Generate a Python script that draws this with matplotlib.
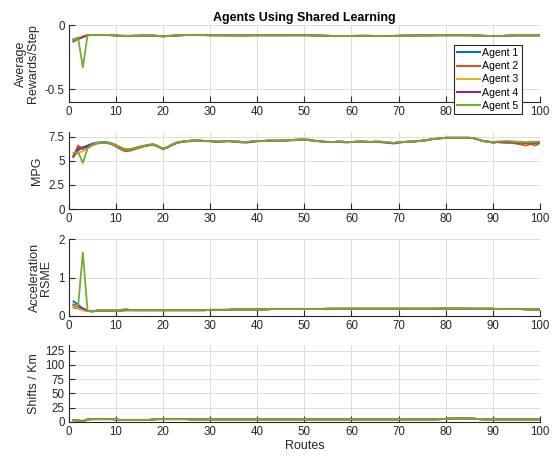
import matplotlib
matplotlib.use("Agg")
import matplotlib.pyplot as plt

plt.rcParams['font.family'] = ['Liberation Sans', 'DejaVu Sans']

routes = list(range(1, 101))
agents = ["Agent 1", "Agent 2", "Agent 3", "Agent 4", "Agent 5"]
colors = ["#0072BD", "#D95319", "#EDB120", "#7E2F8E", "#77AC30"]

# ---- Average rewards / step ----
rew_a1 = [-0.13, -0.105, -0.09, -0.08, -0.077, -0.077, -0.077, -0.078, -0.079, -0.082,
          -0.083, -0.084, -0.084, -0.083, -0.083, -0.082, -0.082, -0.082, -0.085, -0.088,
          -0.086, -0.083, -0.082, -0.08, -0.078, -0.078, -0.078, -0.078, -0.079, -0.08,
          -0.08, -0.08, -0.08, -0.08, -0.08, -0.081, -0.081, -0.081, -0.08, -0.08,
          -0.08, -0.08, -0.08, -0.08, -0.08, -0.08, -0.08, -0.08, -0.08, -0.08,
          -0.08, -0.081, -0.082, -0.083, -0.084, -0.085, -0.085, -0.085, -0.085, -0.085,
          -0.084, -0.084, -0.084, -0.084, -0.085, -0.085, -0.085, -0.085, -0.085, -0.084,
          -0.083, -0.082, -0.082, -0.081, -0.081, -0.081, -0.081, -0.08, -0.08, -0.08,
          -0.08, -0.08, -0.08, -0.08, -0.08, -0.081, -0.082, -0.084, -0.085, -0.086,
          -0.086, -0.085, -0.083, -0.081, -0.08, -0.08, -0.08, -0.08, -0.08, -0.08]
rew_a2 = [-0.11, -0.1, -0.09, -0.08, -0.078, -0.078, -0.078, -0.079, -0.08, -0.083,
          -0.085, -0.086, -0.086, -0.085, -0.084, -0.083, -0.083, -0.083, -0.086, -0.089,
          -0.087, -0.084, -0.082, -0.08, -0.079, -0.078, -0.078, -0.079, -0.08, -0.08,
          -0.08, -0.08, -0.081, -0.081, -0.081, -0.081, -0.081, -0.081, -0.08, -0.08,
          -0.08, -0.08, -0.08, -0.08, -0.08, -0.08, -0.08, -0.08, -0.08, -0.08,
          -0.081, -0.082, -0.083, -0.084, -0.085, -0.086, -0.086, -0.086, -0.085, -0.085,
          -0.085, -0.085, -0.085, -0.085, -0.086, -0.086, -0.086, -0.086, -0.085, -0.084,
          -0.083, -0.083, -0.082, -0.082, -0.081, -0.081, -0.081, -0.08, -0.08, -0.08,
          -0.08, -0.08, -0.08, -0.08, -0.08, -0.081, -0.083, -0.085, -0.086, -0.087,
          -0.087, -0.086, -0.084, -0.082, -0.081, -0.081, -0.082, -0.082, -0.082, -0.081]
rew_a3 = [-0.115, -0.1, -0.085, -0.079, -0.077, -0.077, -0.077, -0.078, -0.079, -0.082,
          -0.084, -0.085, -0.085, -0.084, -0.083, -0.082, -0.082, -0.082, -0.085, -0.088,
          -0.086, -0.083, -0.081, -0.079, -0.077, -0.076, -0.076, -0.077, -0.079, -0.08,
          -0.08, -0.08, -0.08, -0.08, -0.08, -0.081, -0.081, -0.081, -0.08, -0.08,
          -0.08, -0.08, -0.08, -0.08, -0.08, -0.08, -0.079, -0.079, -0.079, -0.079,
          -0.08, -0.081, -0.082, -0.083, -0.084, -0.085, -0.085, -0.085, -0.085, -0.085,
          -0.084, -0.084, -0.084, -0.084, -0.085, -0.085, -0.085, -0.085, -0.084, -0.083,
          -0.082, -0.082, -0.081, -0.081, -0.081, -0.08, -0.08, -0.08, -0.08, -0.08,
          -0.079, -0.079, -0.079, -0.079, -0.08, -0.081, -0.082, -0.084, -0.085, -0.085,
          -0.085, -0.084, -0.083, -0.081, -0.08, -0.08, -0.08, -0.08, -0.08, -0.08]
rew_a4 = [-0.12, -0.11, -0.095, -0.08, -0.077, -0.077, -0.077, -0.078, -0.08, -0.082,
          -0.084, -0.085, -0.085, -0.084, -0.083, -0.082, -0.082, -0.083, -0.086, -0.088,
          -0.086, -0.083, -0.082, -0.08, -0.078, -0.078, -0.078, -0.078, -0.079, -0.08,
          -0.08, -0.08, -0.08, -0.081, -0.081, -0.081, -0.081, -0.081, -0.08, -0.08,
          -0.08, -0.08, -0.08, -0.08, -0.08, -0.08, -0.08, -0.08, -0.08, -0.08,
          -0.08, -0.081, -0.082, -0.083, -0.084, -0.085, -0.085, -0.085, -0.085, -0.085,
          -0.085, -0.084, -0.084, -0.085, -0.085, -0.085, -0.086, -0.086, -0.085, -0.084,
          -0.083, -0.082, -0.082, -0.081, -0.081, -0.081, -0.081, -0.08, -0.08, -0.08,
          -0.08, -0.08, -0.08, -0.08, -0.08, -0.081, -0.082, -0.084, -0.085, -0.086,
          -0.086, -0.085, -0.083, -0.082, -0.081, -0.081, -0.081, -0.081, -0.081, -0.08]
rew_a5 = [-0.12, -0.1, -0.33, -0.08, -0.077, -0.077, -0.077, -0.078, -0.079, -0.082,
          -0.084, -0.085, -0.085, -0.084, -0.083, -0.082, -0.082, -0.082, -0.085, -0.088,
          -0.086, -0.083, -0.082, -0.08, -0.078, -0.078, -0.078, -0.078, -0.079, -0.08,
          -0.08, -0.08, -0.08, -0.08, -0.08, -0.081, -0.081, -0.081, -0.08, -0.08,
          -0.08, -0.08, -0.08, -0.08, -0.08, -0.08, -0.08, -0.08, -0.08, -0.08,
          -0.08, -0.081, -0.082, -0.083, -0.084, -0.085, -0.085, -0.085, -0.085, -0.085,
          -0.084, -0.084, -0.084, -0.084, -0.085, -0.085, -0.085, -0.085, -0.085, -0.084,
          -0.083, -0.082, -0.082, -0.081, -0.081, -0.081, -0.081, -0.08, -0.08, -0.08,
          -0.08, -0.08, -0.08, -0.08, -0.08, -0.081, -0.082, -0.084, -0.085, -0.086,
          -0.086, -0.085, -0.083, -0.081, -0.08, -0.08, -0.08, -0.08, -0.08, -0.08]

# ---- MPG ----
mpg_a1 = [5.5, 6.1, 6.4, 6.6, 6.8, 6.9, 6.95, 6.95, 6.85, 6.65,
          6.4, 6.2, 6.2, 6.3, 6.45, 6.55, 6.65, 6.7, 6.5, 6.25,
          6.45, 6.7, 6.9, 7.0, 7.05, 7.1, 7.1, 7.1, 7.05, 7.05,
          7.0, 7.0, 7.05, 7.05, 7.0, 6.95, 6.9, 6.9, 7.0, 7.05,
          7.05, 7.1, 7.1, 7.1, 7.1, 7.1, 7.15, 7.15, 7.2, 7.2,
          7.15, 7.1, 7.05, 7.0, 6.95, 6.95, 7.0, 7.0, 6.95, 6.95,
          7.0, 7.0, 7.0, 6.95, 7.0, 7.0, 6.95, 6.9, 6.85, 6.95,
          6.95, 7.0, 7.0, 7.05, 7.1, 7.15, 7.25, 7.3, 7.35, 7.4,
          7.4, 7.4, 7.4, 7.4, 7.4, 7.35, 7.2, 7.05, 7.0, 6.9,
          6.95, 7.0, 7.0, 6.95, 6.9, 6.9, 6.85, 6.9, 6.85, 6.9]
mpg_a2 = [5.5, 6.6, 6.2, 6.4, 6.6, 6.8, 6.85, 6.85, 6.75, 6.5,
          6.2, 6.0, 6.05, 6.2, 6.35, 6.5, 6.6, 6.65, 6.45, 6.2,
          6.4, 6.65, 6.85, 6.95, 7.0, 7.05, 7.1, 7.1, 7.05, 7.05,
          7.0, 7.0, 7.0, 7.05, 7.0, 7.0, 6.95, 6.95, 7.0, 7.05,
          7.05, 7.1, 7.1, 7.1, 7.1, 7.15, 7.15, 7.2, 7.25, 7.25,
          7.2, 7.1, 7.05, 7.0, 6.95, 6.95, 6.95, 6.95, 6.9, 6.95,
          6.95, 7.0, 6.95, 6.95, 6.95, 7.0, 6.95, 6.9, 6.85, 6.9,
          6.95, 7.0, 7.0, 7.05, 7.1, 7.15, 7.25, 7.3, 7.35, 7.4,
          7.4, 7.4, 7.4, 7.4, 7.4, 7.35, 7.2, 7.05, 7.0, 6.95,
          6.95, 6.95, 6.9, 6.85, 6.8, 6.7, 6.6, 6.75, 6.6, 6.85]
mpg_a3 = [5.6, 5.8, 6.0, 6.3, 6.65, 6.85, 6.9, 6.9, 6.85, 6.65,
          6.4, 6.2, 6.2, 6.35, 6.5, 6.6, 6.7, 6.75, 6.55, 6.3,
          6.45, 6.75, 6.9, 7.0, 7.05, 7.1, 7.15, 7.1, 7.05, 7.05,
          7.05, 7.05, 7.05, 7.05, 7.0, 7.0, 6.95, 7.0, 7.05, 7.05,
          7.05, 7.1, 7.1, 7.1, 7.1, 7.1, 7.15, 7.2, 7.25, 7.25,
          7.2, 7.1, 7.05, 7.0, 7.0, 6.95, 7.0, 7.0, 6.95, 6.95,
          7.0, 7.0, 7.0, 7.0, 7.0, 7.0, 6.95, 6.9, 6.9, 6.95,
          6.95, 7.0, 7.0, 7.05, 7.1, 7.15, 7.25, 7.3, 7.35, 7.4,
          7.4, 7.4, 7.4, 7.4, 7.4, 7.35, 7.2, 7.05, 7.0, 6.95,
          7.0, 7.05, 7.05, 7.05, 7.0, 7.0, 6.95, 7.0, 7.0, 7.0]
mpg_a4 = [5.4, 6.3, 6.4, 6.5, 6.7, 6.85, 6.9, 6.9, 6.8, 6.6,
          6.35, 6.15, 6.15, 6.3, 6.45, 6.55, 6.65, 6.7, 6.5, 6.25,
          6.4, 6.7, 6.9, 7.0, 7.05, 7.1, 7.15, 7.1, 7.05, 7.05,
          7.0, 7.0, 7.05, 7.05, 7.0, 7.0, 6.95, 6.95, 7.0, 7.05,
          7.05, 7.1, 7.1, 7.1, 7.1, 7.1, 7.15, 7.15, 7.2, 7.2,
          7.15, 7.1, 7.05, 7.0, 6.95, 6.95, 7.0, 7.0, 6.95, 6.95,
          7.0, 7.0, 7.0, 6.95, 7.0, 6.95, 6.9, 6.85, 6.8, 6.9,
          6.95, 7.0, 7.0, 7.05, 7.1, 7.15, 7.25, 7.3, 7.35, 7.4,
          7.4, 7.4, 7.4, 7.4, 7.4, 7.35, 7.2, 7.05, 7.0, 6.9,
          6.95, 6.9, 6.9, 6.95, 6.9, 6.9, 6.85, 6.9, 6.9, 6.95]
mpg_a5 = [5.8, 5.9, 4.8, 6.3, 6.7, 6.85, 6.9, 6.9, 6.8, 6.6,
          6.35, 6.15, 6.15, 6.3, 6.45, 6.55, 6.65, 6.7, 6.5, 6.25,
          6.4, 6.7, 6.9, 7.0, 7.05, 7.1, 7.15, 7.1, 7.05, 7.05,
          7.05, 7.0, 7.05, 7.05, 7.0, 7.0, 6.95, 6.95, 7.05, 7.05,
          7.05, 7.1, 7.1, 7.1, 7.1, 7.1, 7.15, 7.15, 7.2, 7.2,
          7.15, 7.1, 7.05, 7.0, 6.95, 6.95, 7.0, 7.0, 6.95, 6.95,
          7.0, 7.0, 7.0, 6.95, 7.0, 7.0, 6.95, 6.9, 6.85, 6.95,
          6.95, 7.0, 7.0, 7.05, 7.1, 7.15, 7.25, 7.3, 7.35, 7.4,
          7.4, 7.4, 7.4, 7.4, 7.4, 7.35, 7.2, 7.05, 7.0, 6.95,
          7.0, 7.0, 7.05, 7.0, 6.95, 6.95, 6.9, 6.95, 6.95, 7.0]

# ---- Acceleration RSME ----
acc_a1 = [0.38, 0.3, 0.18, 0.13, 0.12, 0.14, 0.14, 0.14, 0.14, 0.14,
          0.14, 0.15, 0.15, 0.15, 0.15, 0.15, 0.15, 0.15, 0.15, 0.15,
          0.15, 0.15, 0.15, 0.15, 0.15, 0.15, 0.15, 0.15, 0.15, 0.16,
          0.16, 0.16, 0.16, 0.16, 0.17, 0.17, 0.17, 0.17, 0.17, 0.17,
          0.17, 0.17, 0.18, 0.18, 0.18, 0.18, 0.18, 0.18, 0.18, 0.18,
          0.18, 0.18, 0.18, 0.18, 0.19, 0.19, 0.19, 0.19, 0.19, 0.19,
          0.19, 0.19, 0.19, 0.19, 0.19, 0.19, 0.19, 0.19, 0.19, 0.19,
          0.19, 0.19, 0.19, 0.19, 0.19, 0.19, 0.19, 0.19, 0.19, 0.19,
          0.19, 0.19, 0.19, 0.19, 0.19, 0.19, 0.19, 0.19, 0.19, 0.19,
          0.18, 0.18, 0.18, 0.18, 0.18, 0.18, 0.17, 0.17, 0.17, 0.17]
acc_a2 = [0.22, 0.2, 0.15, 0.13, 0.12, 0.14, 0.14, 0.14, 0.14, 0.14,
          0.15, 0.18, 0.16, 0.15, 0.15, 0.15, 0.15, 0.15, 0.15, 0.15,
          0.15, 0.15, 0.15, 0.15, 0.15, 0.15, 0.15, 0.15, 0.16, 0.16,
          0.16, 0.16, 0.16, 0.17, 0.17, 0.17, 0.17, 0.17, 0.17, 0.17,
          0.17, 0.18, 0.18, 0.18, 0.18, 0.18, 0.18, 0.18, 0.18, 0.18,
          0.18, 0.18, 0.18, 0.19, 0.19, 0.19, 0.19, 0.19, 0.19, 0.19,
          0.19, 0.19, 0.19, 0.19, 0.19, 0.19, 0.19, 0.19, 0.19, 0.19,
          0.19, 0.19, 0.19, 0.19, 0.19, 0.19, 0.19, 0.19, 0.2, 0.2,
          0.2, 0.2, 0.2, 0.2, 0.19, 0.19, 0.19, 0.19, 0.19, 0.19,
          0.18, 0.18, 0.18, 0.18, 0.18, 0.18, 0.18, 0.17, 0.17, 0.17]
acc_a3 = [0.25, 0.22, 0.15, 0.13, 0.12, 0.14, 0.14, 0.14, 0.14, 0.14,
          0.14, 0.15, 0.15, 0.15, 0.15, 0.15, 0.15, 0.15, 0.15, 0.15,
          0.15, 0.15, 0.15, 0.15, 0.15, 0.15, 0.15, 0.15, 0.15, 0.16,
          0.16, 0.16, 0.16, 0.16, 0.17, 0.17, 0.17, 0.17, 0.17, 0.17,
          0.17, 0.17, 0.18, 0.18, 0.18, 0.18, 0.18, 0.18, 0.18, 0.18,
          0.18, 0.18, 0.18, 0.18, 0.19, 0.19, 0.19, 0.19, 0.19, 0.19,
          0.19, 0.19, 0.19, 0.19, 0.19, 0.19, 0.19, 0.19, 0.19, 0.19,
          0.19, 0.19, 0.19, 0.19, 0.19, 0.19, 0.19, 0.19, 0.19, 0.19,
          0.19, 0.19, 0.19, 0.19, 0.19, 0.19, 0.19, 0.19, 0.19, 0.19,
          0.18, 0.18, 0.18, 0.18, 0.18, 0.18, 0.17, 0.17, 0.17, 0.17]
acc_a4 = [0.3, 0.25, 0.2, 0.14, 0.12, 0.14, 0.14, 0.14, 0.14, 0.14,
          0.14, 0.15, 0.15, 0.15, 0.15, 0.15, 0.15, 0.15, 0.15, 0.15,
          0.15, 0.15, 0.15, 0.15, 0.15, 0.15, 0.15, 0.15, 0.15, 0.16,
          0.16, 0.16, 0.16, 0.16, 0.17, 0.17, 0.17, 0.17, 0.17, 0.17,
          0.17, 0.17, 0.18, 0.18, 0.18, 0.18, 0.18, 0.18, 0.18, 0.18,
          0.18, 0.18, 0.18, 0.18, 0.19, 0.19, 0.19, 0.19, 0.19, 0.19,
          0.19, 0.19, 0.19, 0.19, 0.19, 0.19, 0.19, 0.19, 0.19, 0.19,
          0.19, 0.19, 0.19, 0.19, 0.19, 0.19, 0.19, 0.19, 0.19, 0.19,
          0.19, 0.19, 0.19, 0.19, 0.19, 0.19, 0.19, 0.19, 0.19, 0.19,
          0.18, 0.18, 0.18, 0.18, 0.18, 0.18, 0.17, 0.17, 0.17, 0.17]
acc_a5 = [0.28, 0.25, 1.65, 0.13, 0.12, 0.14, 0.14, 0.14, 0.14, 0.14,
          0.14, 0.15, 0.15, 0.15, 0.15, 0.15, 0.15, 0.15, 0.15, 0.15,
          0.15, 0.15, 0.15, 0.15, 0.15, 0.15, 0.15, 0.15, 0.15, 0.16,
          0.16, 0.16, 0.16, 0.16, 0.17, 0.17, 0.17, 0.17, 0.17, 0.17,
          0.17, 0.17, 0.18, 0.18, 0.18, 0.18, 0.18, 0.18, 0.18, 0.18,
          0.18, 0.18, 0.18, 0.18, 0.19, 0.19, 0.19, 0.19, 0.19, 0.19,
          0.19, 0.19, 0.19, 0.19, 0.19, 0.19, 0.19, 0.19, 0.19, 0.19,
          0.19, 0.19, 0.19, 0.19, 0.19, 0.19, 0.19, 0.19, 0.19, 0.19,
          0.19, 0.19, 0.19, 0.19, 0.19, 0.19, 0.19, 0.19, 0.19, 0.19,
          0.18, 0.18, 0.18, 0.18, 0.18, 0.18, 0.17, 0.17, 0.17, 0.17]

# ---- Shifts / Km ----
shf_a1 = [3, 2.5, 1.5, 4.5, 5, 5, 5, 5, 5, 4.5,
          3.5, 3.5, 3.5, 3.5, 3.5, 3.5, 3.5, 4.5, 5, 5,
          5, 5, 5, 5, 5, 4.5, 4.5, 4.5, 4.5, 4.5,
          4.5, 4.5, 4.5, 4.5, 4.5, 4.5, 4.5, 4.5, 4.5, 4.5,
          4.5, 4.5, 4.5, 4.5, 4.5, 4.5, 4.5, 4.5, 4.5, 4.5,
          4.5, 4.5, 4.5, 4.5, 4.5, 4.5, 4.5, 4.5, 4.5, 4.5,
          4.5, 4.5, 4.5, 4.5, 4.5, 4.5, 4.5, 4.5, 4.5, 4.5,
          4.5, 4.5, 4.5, 4.5, 4.5, 4.5, 4.5, 4.5, 5, 5.5,
          6, 6, 6, 6, 6, 6, 5, 4.5, 4.5, 4.5,
          4.5, 4.5, 4.5, 4.5, 4.5, 4.5, 4.5, 4.5, 4.5, 4.5]
shf_a2 = [3.5, 3, 2, 4.5, 5, 5, 5, 5, 5, 4.5,
          3.5, 3.5, 3.5, 3.5, 3.5, 3.5, 3.5, 4.5, 5, 5,
          5, 5, 5, 5, 5, 4.5, 4.5, 4.5, 4.5, 4.5,
          4.5, 4.5, 4.5, 4.5, 4.5, 4.5, 4.5, 4.5, 4.5, 4.5,
          4.5, 4.5, 4.5, 4.5, 4.5, 4.5, 4.5, 4.5, 4.5, 4.5,
          4.5, 4.5, 4.5, 4.5, 4.5, 4.5, 4.5, 4.5, 4.5, 4.5,
          4.5, 4.5, 4.5, 4.5, 4.5, 4.5, 4.5, 4.5, 4.5, 4.5,
          4.5, 4.5, 4.5, 4.5, 4.5, 4.5, 4.5, 4.5, 5, 5.5,
          6, 6.5, 6.5, 6.5, 6.5, 6, 5, 4.5, 4.5, 4.5,
          4.5, 4.5, 4.5, 4.5, 4.5, 4.5, 4.5, 4.5, 4.5, 4.5]
shf_a3 = [3, 2.5, 1.5, 4.5, 5, 5, 5, 5, 5, 4.5,
          3.5, 3.5, 3.5, 3.5, 3.5, 3.5, 4, 4.5, 5, 5,
          5, 5, 5, 5, 5, 4.5, 4.5, 4.5, 4.5, 4.5,
          4.5, 4.5, 4.5, 4.5, 4.5, 4.5, 4.5, 4.5, 4.5, 4.5,
          4.5, 4.5, 4.5, 4.5, 4.5, 4.5, 4.5, 4.5, 4.5, 4.5,
          4.5, 4.5, 4.5, 4.5, 4.5, 4.5, 4.5, 4.5, 4.5, 4.5,
          4.5, 4.5, 4.5, 4.5, 4.5, 4.5, 4.5, 4.5, 4.5, 4.5,
          4.5, 4.5, 4.5, 4.5, 4.5, 4.5, 4.5, 4.5, 5, 5.5,
          6, 6, 6, 6, 6, 6, 5, 4.5, 4.5, 4.5,
          4.5, 4.5, 4.5, 4.5, 4.5, 4.5, 4.5, 4.5, 4.5, 4.5]
shf_a4 = [3, 2.5, 1.5, 4.5, 5, 5, 5, 5, 5, 4.5,
          3.5, 3.5, 3.5, 3.5, 3.5, 3.5, 3.5, 4.5, 5, 5,
          5, 5, 5, 5, 5, 4.5, 4.5, 4.5, 4.5, 4.5,
          4.5, 4.5, 4.5, 4.5, 4.5, 4.5, 4.5, 4.5, 4.5, 4.5,
          4.5, 4.5, 4.5, 4.5, 4.5, 4.5, 4.5, 4.5, 4.5, 4.5,
          4.5, 4.5, 4.5, 4.5, 4.5, 4.5, 4.5, 4.5, 4.5, 4.5,
          4.5, 4.5, 4.5, 4.5, 4.5, 4.5, 4.5, 4.5, 4.5, 4.5,
          4.5, 4.5, 4.5, 4.5, 4.5, 4.5, 4.5, 4.5, 5, 5.5,
          6, 6, 6, 6, 6, 6, 5, 4.5, 4.5, 4.5,
          4.5, 4.5, 4.5, 4.5, 4.5, 4.5, 4.5, 4.5, 4.5, 4.5]
shf_a5 = [3, 2.5, 1, 4.5, 5, 5, 5, 5, 5, 4.5,
          3.5, 3.5, 3.5, 3.5, 3.5, 3.5, 3.5, 4.5, 5, 5,
          5, 5, 5, 5, 5, 4.5, 4.5, 4.5, 4.5, 4.5,
          4.5, 4.5, 4.5, 4.5, 4.5, 4.5, 4.5, 4.5, 4.5, 4.5,
          4.5, 4.5, 4.5, 4.5, 4.5, 4.5, 4.5, 4.5, 4.5, 4.5,
          4.5, 4.5, 4.5, 4.5, 4.5, 4.5, 4.5, 4.5, 4.5, 4.5,
          4.5, 4.5, 4.5, 4.5, 4.5, 4.5, 4.5, 4.5, 4.5, 4.5,
          4.5, 4.5, 4.5, 4.5, 4.5, 4.5, 4.5, 4.5, 5, 5.5,
          6, 6, 6, 6, 6, 6, 5, 4.5, 4.5, 4.5,
          4.5, 4.5, 4.5, 4.5, 4.5, 4.5, 4.5, 4.5, 4.5, 4.5]

rewards = [rew_a1, rew_a2, rew_a3, rew_a4, rew_a5]
mpg = [mpg_a1, mpg_a2, mpg_a3, mpg_a4, mpg_a5]
accel = [acc_a1, acc_a2, acc_a3, acc_a4, acc_a5]
shifts = [shf_a1, shf_a2, shf_a3, shf_a4, shf_a5]

panels = [
    (rewards, "Average\nRewards/Step", (-0.6, 0), [-0.5, 0], ["-0.5", "0"]),
    (mpg, "MPG", (0, 8), [0, 2.5, 5, 7.5], ["0", "2.5", "5", "7.5"]),
    (accel, "Acceleration\nRSME", (0, 2), [0, 1, 2], ["0", "1", "2"]),
    (shifts, "Shifts / Km", (0, 135), [0, 25, 50, 75, 100, 125],
     ["0", "25", "50", "75", "100", "125"]),
]

W, H = 556, 463
fig = plt.figure(figsize=(W / 100, H / 100), dpi=100)
tops = [25, 132, 239, 345]
ax_h = 77
left, right = 68.7, 540.0
xticks = [0, 10, 20, 30, 40, 50, 60, 70, 80, 90, 100]

axes = []
for (data, ylab, ylim, yt, ytl), top in zip(panels, tops):
    ax = fig.add_axes([left / W, (H - top - ax_h) / H, (right - left) / W, ax_h / H])
    for series, c, name in zip(data, colors, agents):
        ax.plot(routes, series, color=c, lw=1.3, label=name)
    ax.set_xlim(0, 100)
    ax.set_ylim(*ylim)
    ax.set_xticks(xticks)
    ax.set_yticks(yt)
    ax.set_yticklabels(ytl)
    ax.grid(True, color="#dcdcdc", lw=0.7)
    ax.set_axisbelow(True)
    for s in ["top", "right"]:
        ax.spines[s].set_visible(False)
    for s in ["left", "bottom"]:
        ax.spines[s].set_color("#262626")
        ax.spines[s].set_linewidth(0.8)
    ax.tick_params(direction="in", length=4, width=0.8, colors="#262626",
                   labelsize=8.3, pad=3)
    ax.set_ylabel(ylab, fontsize=9, color="#262626", linespacing=1.0)
    axes.append(ax)

axes[-1].set_xlabel("Routes", fontsize=9, color="#262626", labelpad=1)
axes[0].set_title("Agents Using Shared Learning", fontsize=9, fontweight="bold",
                  color="black", pad=3)

handles, labels = axes[0].get_legend_handles_labels()
leg = fig.legend(handles, labels, loc="upper left",
                 bbox_to_anchor=(454 / W, 1 - 45 / H), fontsize=7.6,
                 frameon=True, fancybox=False, edgecolor="#262626",
                 framealpha=1, labelspacing=0.3, borderpad=0.3,
                 handlelength=2.2, handletextpad=0.2, borderaxespad=0)
leg.get_frame().set_linewidth(0.8)
for l in leg.get_lines():
    l.set_linewidth(1.5)

fig.savefig("out.png", dpi=100)
